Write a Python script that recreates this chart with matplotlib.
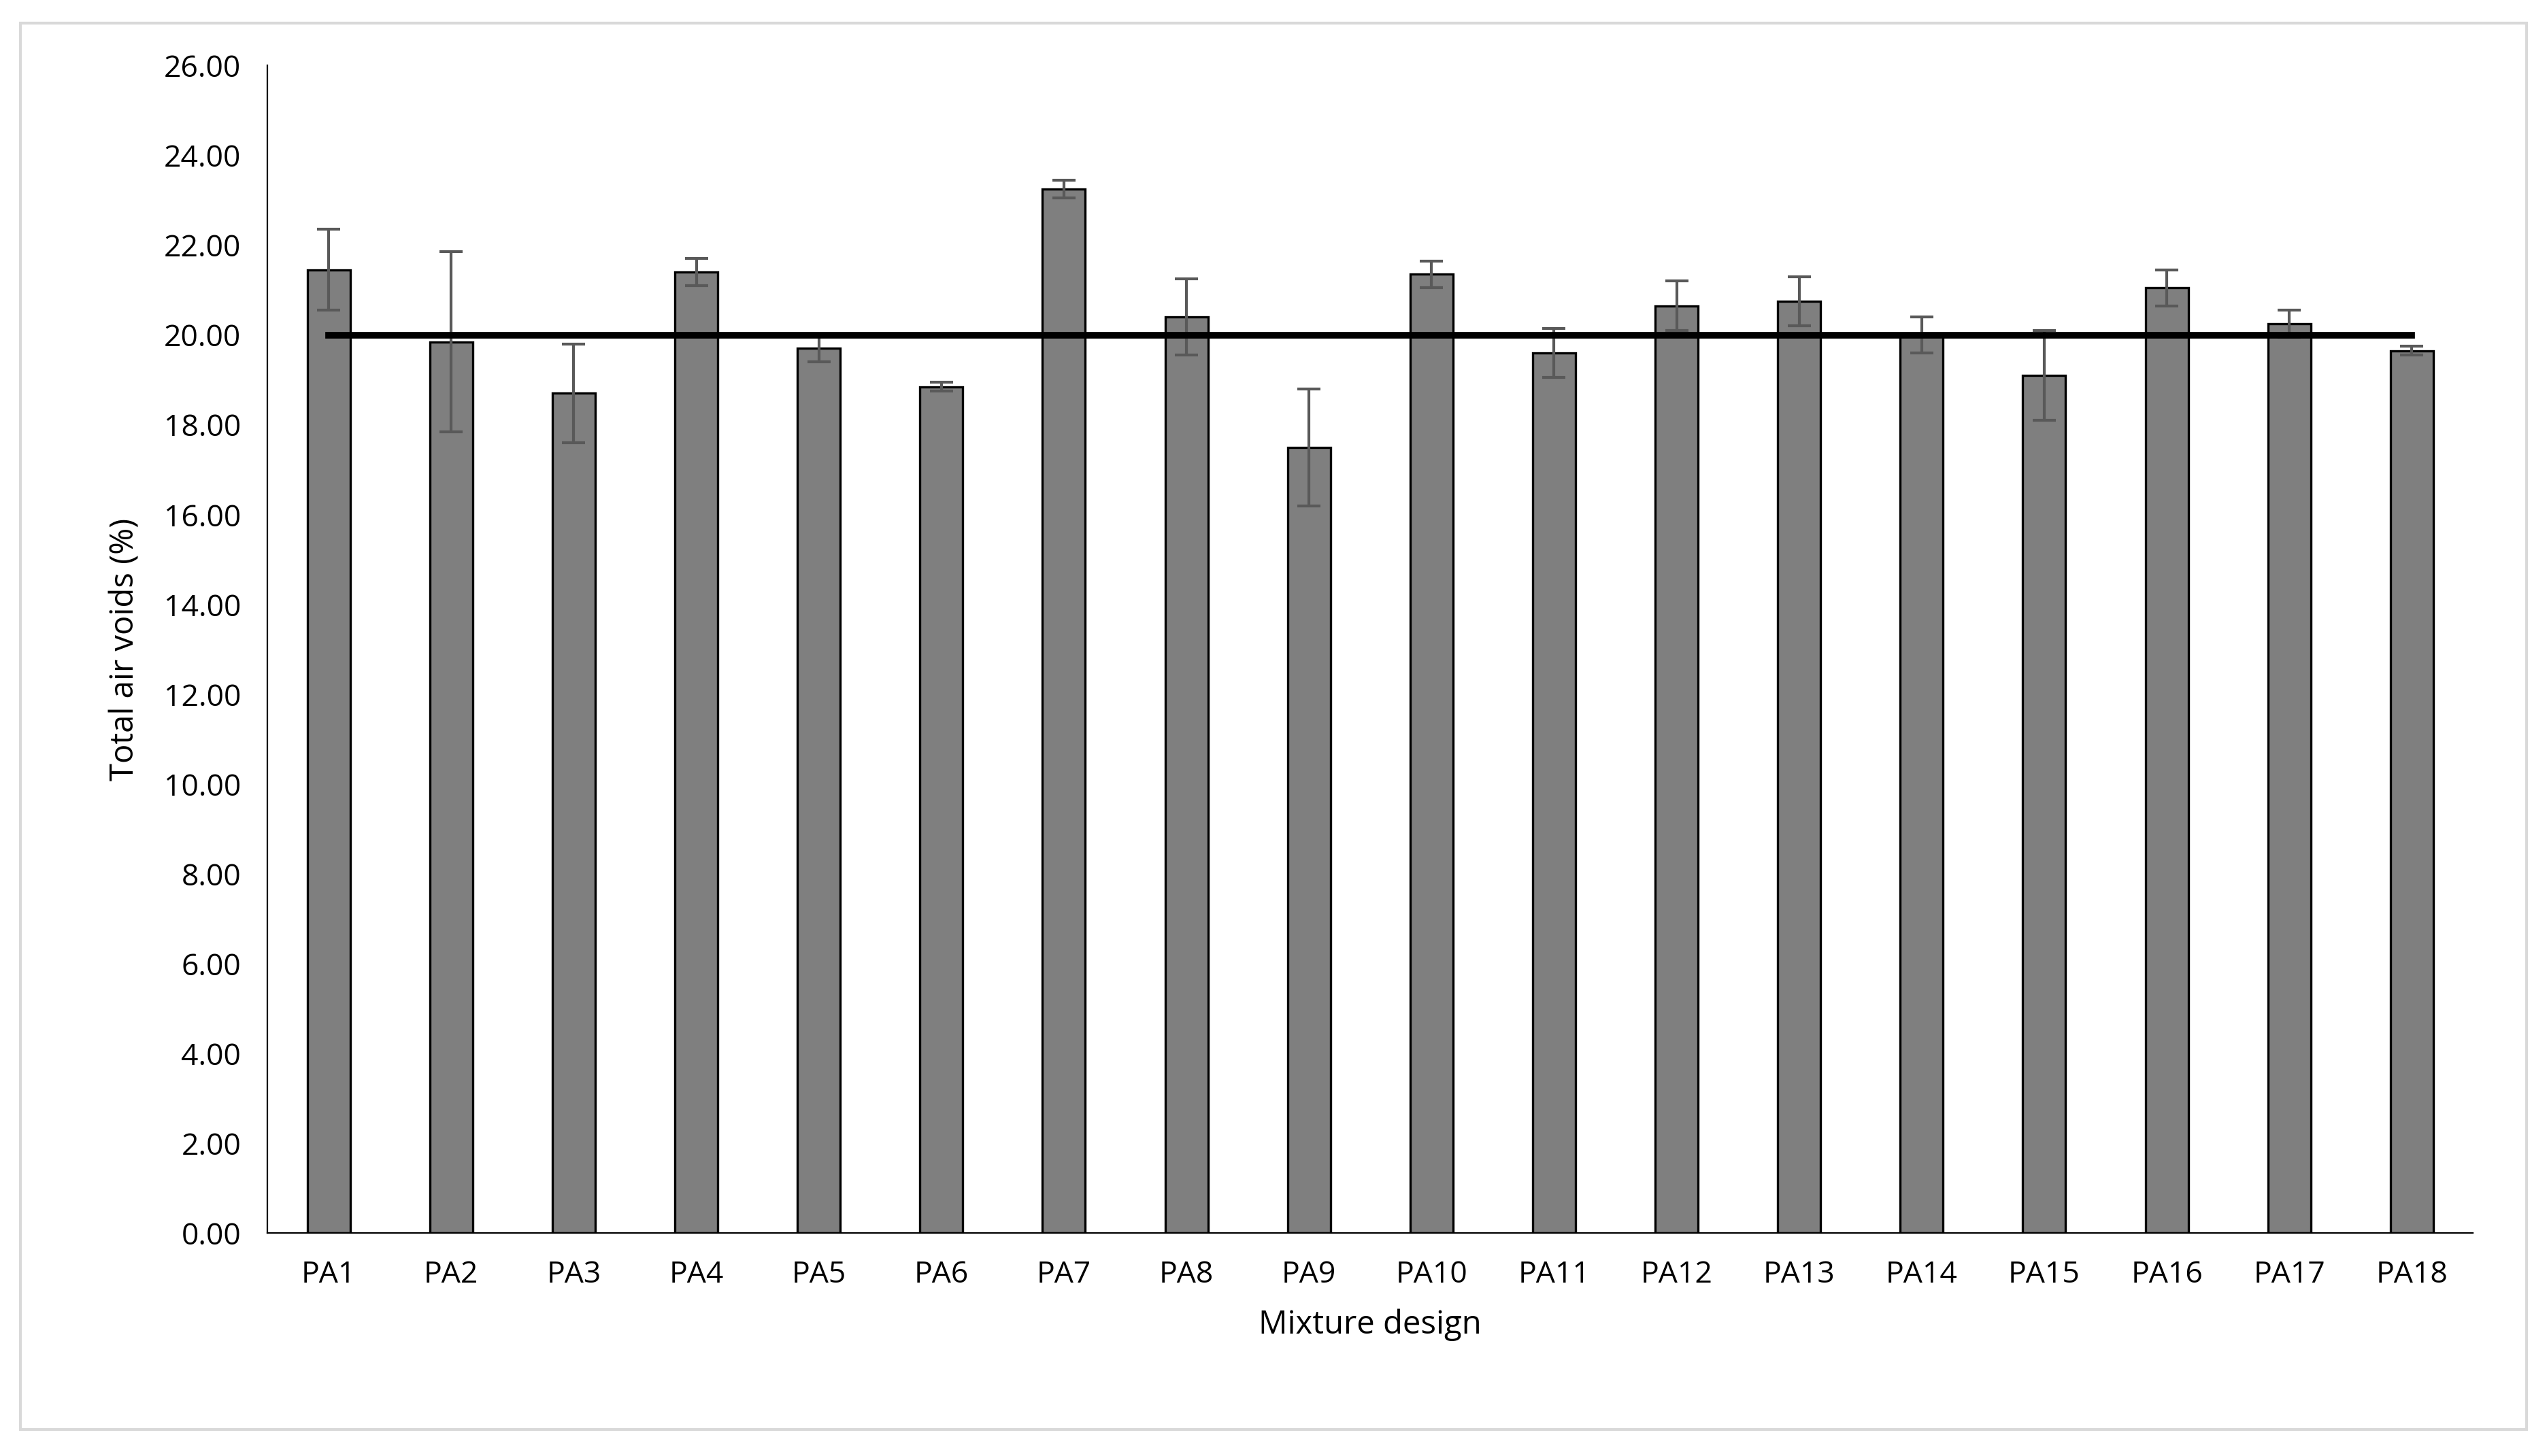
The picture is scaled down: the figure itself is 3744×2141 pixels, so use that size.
import matplotlib.pyplot as plt
from matplotlib.patches import Rectangle

mixtures = ["PA%d" % i for i in range(1, 19)]
air_voids = [21.45, 19.85, 18.70, 21.40, 19.70, 18.85, 23.25, 20.40, 17.50,
             21.35, 19.60, 20.65, 20.75, 20.00, 19.10, 21.05, 20.25, 19.65]
errors = [0.90, 2.00, 1.10, 0.30, 0.30, 0.10, 0.20, 0.85, 1.30,
          0.30, 0.55, 0.55, 0.55, 0.40, 1.00, 0.40, 0.30, 0.10]
target = 20.0

plt.rcParams["font.family"] = ["Open Sans", "DejaVu Sans"]

fig = plt.figure(figsize=(18.72, 10.705), dpi=200)
fig.patches.append(Rectangle((0.008, 0.018), 0.984, 0.966, transform=fig.transFigure,
                             fill=False, edgecolor="#d9d9d9", linewidth=1.5))
ax = fig.add_axes([0.105, 0.153, 0.866, 0.802])

x = range(len(mixtures))
ax.bar(x, air_voids, width=0.35, color="#7f7f7f", edgecolor="black", linewidth=1.2, zorder=2)
ax.errorbar(x, air_voids, yerr=errors, fmt="none", ecolor="#595959",
            elinewidth=1.5, capsize=6, capthick=1.5, zorder=3)
ax.plot([0, len(mixtures) - 1], [target, target], color="black", linewidth=3.5, zorder=4)

ax.set_xlim(-0.5, len(mixtures) - 0.5)
ax.set_ylim(0, 26)
ax.set_yticks([i * 2 for i in range(14)])
ax.set_yticklabels(["%.2f" % (i * 2) for i in range(14)])
ax.set_xticks(list(x))
ax.set_xticklabels(mixtures)
ax.tick_params(length=0, labelsize=16, colors="black", pad=14)
for s in ["top", "right"]:
    ax.spines[s].set_visible(False)
ax.spines["left"].set_color("black")
ax.spines["bottom"].set_color("black")
ax.set_xlabel("Mixture design", fontsize=17, labelpad=10)
ax.set_ylabel("Total air voids (%)", fontsize=17, labelpad=12)

fig.savefig("out.png", dpi=200)
